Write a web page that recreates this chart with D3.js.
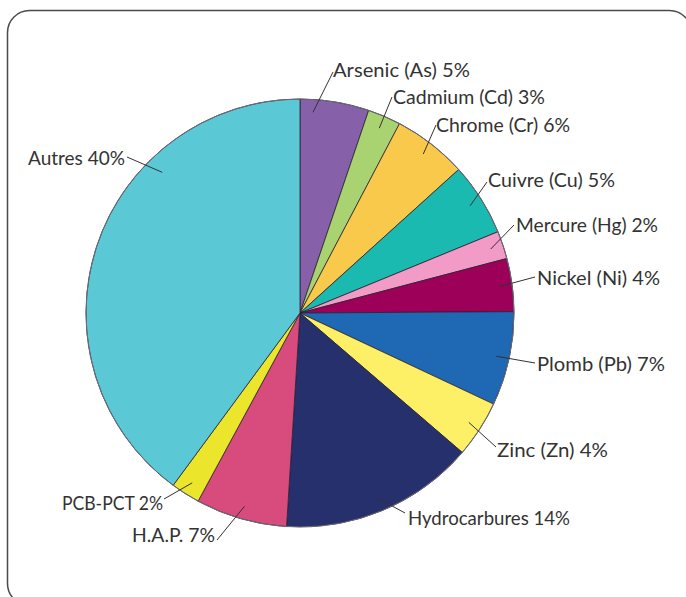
<!DOCTYPE html>
<html><head><meta charset="utf-8">
<script src="https://cdn.jsdelivr.net/npm/d3@7"></script>
<style>html,body{margin:0;padding:0;background:#fff;}svg{display:block;}</style>
</head><body>
<svg id="chart" width="686" height="597"></svg>
<script>
// ---- data ----
const categories = ["Arsenic (As)", "Cadmium (Cd)", "Chrome (Cr)", "Cuivre (Cu)", "Mercure (Hg)", "Nickel (Ni)",
  "Plomb (Pb)", "Zinc (Zn)", "Hydrocarbures", "H.A.P.", "PCB-PCT", "Autres"];
const percentLabels = [5, 3, 6, 5, 2, 4, 7, 4, 14, 7, 2, 40];
// slice shares
const shares = [5.2, 2.5, 5.6, 5.5, 2.1, 4.0, 7.1, 4.3, 14.7, 6.9, 2.2, 39.9];
const colors = ["#8661a9", "#a9d270", "#f9c94b", "#1abab1", "#f29bc6", "#9c0058",
  "#1f68b3", "#fef066", "#25306c", "#d74c7c", "#ebe52b", "#5bc8d6"];

// ---- layout ----
const W = 686, H = 597;
const cx = 300, cy = 313, R = 214;
// label box (left x, right x, baseline y) and leader outer end
const labelPos = [
  {x1: 333, x2: 470, ty: 77, lx: 333, ly: 72, la: 3.7},
  {x1: 393, x2: 545, ty: 104, lx: 392, ly: 97},
  {x1: 436, x2: 570, ty: 132, lx: 436, ly: 125},
  {x1: 488, x2: 615, ty: 187, lx: 487, ly: 182},
  {x1: 516, x2: 658, ty: 232, lx: 514, ly: 225},
  {x1: 537, x2: 660, ty: 285, lx: 535, ly: 277},
  {x1: 537, x2: 665, ty: 371, lx: 535, ly: 363},
  {x1: 497, x2: 608, ty: 457, lx: 496, ly: 447},
  {x1: 408, x2: 570, ty: 525, lx: 405, ly: 513},
  {x1: 132, x2: 215, ty: 542, lx: 217, ly: 540},
  {x1: 62, x2: 163, ty: 510, lx: 164, ly: 499},
  {x1: 28, x2: 125, ty: 165, lx: 127, ly: 157, la: 315.6, lr: 0.92}
];

const svg = d3.select("#chart");
svg.append("rect").attr("x", 7.5).attr("y", 10.5).attr("width", 684).attr("height", 595)
  .attr("rx", 22).attr("ry", 22).attr("fill", "#fff").attr("stroke", "#4a4a4a").attr("stroke-width", 1.5);

const pie = d3.pie().sort(null).value(d => d)(shares);
const arc = d3.arc().innerRadius(0).outerRadius(R);
const g = svg.append("g").attr("transform", `translate(${cx},${cy})`);

g.selectAll("path.slice").data(pie).join("path")
  .attr("class", "slice")
  .attr("d", arc)
  .attr("fill", (d, i) => colors[i])
  .attr("stroke", "#2a2233").attr("stroke-width", 0.8).attr("stroke-linejoin", "round");

g.append("circle").attr("r", R).attr("fill", "none").attr("stroke", "#6b6b78").attr("stroke-width", 1);

// leaders + labels
const lines = svg.append("g");
pie.forEach((d, i) => {
  const p = labelPos[i];
  const ang = p.la !== undefined ? p.la * Math.PI / 180 : (d.startAngle + d.endAngle) / 2;
  const r = R * (p.lr || 0.94);
  const x0 = cx + r * Math.sin(ang), y0 = cy - r * Math.cos(ang);
  lines.append("line").attr("x1", x0).attr("y1", y0).attr("x2", p.lx).attr("y2", p.ly)
    .attr("stroke", "#333").attr("stroke-width", 1);
  svg.append("text")
    .attr("x", p.x1)
    .attr("y", p.ty)
    .attr("textLength", p.x2 - p.x1)
    .attr("lengthAdjust", "spacingAndGlyphs")
    .attr("font-family", "Lato, 'Liberation Sans', sans-serif")
    .attr("font-size", 20)
    .attr("fill", "#333")
    .text(`${categories[i]} ${percentLabels[i]}%`);
});
</script>
</body></html>
